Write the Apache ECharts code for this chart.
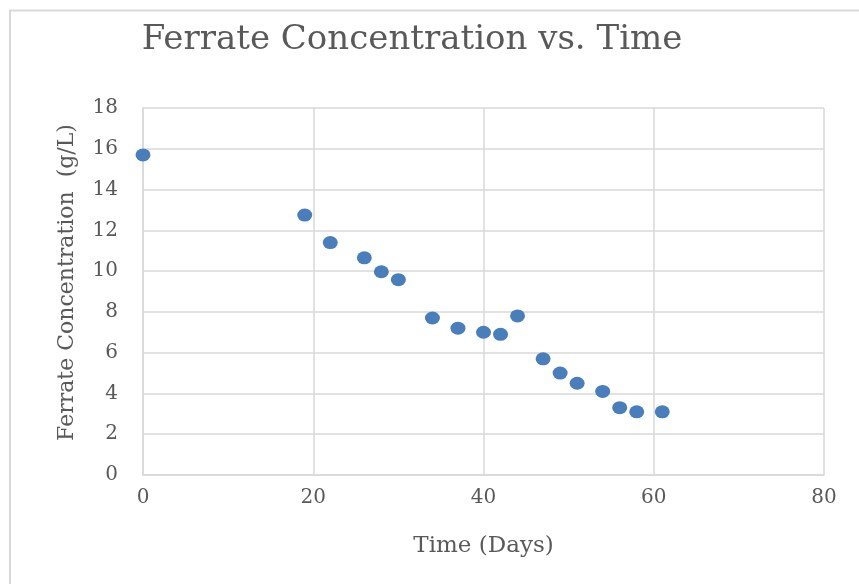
<!DOCTYPE html>
<html>
<head>
<meta charset="utf-8">
<script src="https://cdn.jsdelivr.net/npm/echarts@6/dist/echarts.min.js"></script>
<style>
  html, body { margin: 0; padding: 0; background: #fff; }
  #chart { width: 859px; height: 584px; }
</style>
</head>
<body>
<div id="chart"></div>
<script>
// Ferrate concentration measured over time
const days = [0, 19, 22, 26, 28, 30, 34, 37, 40, 42, 44, 47, 49, 51, 54, 56, 58, 61];
const concentration = [15.7, 12.75, 11.4, 10.65, 9.97, 9.58, 7.7, 7.2, 7.0, 6.9, 7.8, 5.7, 5.0, 4.5, 4.1, 3.3, 3.1, 3.1];
const xTicks = [0, 20, 40, 60, 80];
const yTicks = [0, 2, 4, 6, 8, 10, 12, 14, 16, 18];

const points = days.map((d, i) => [d, concentration[i]]);
const font = '"DejaVu Serif", "Liberation Serif", serif';
const textColor = '#595959';
const gridColor = '#d9d9d9';

const chart = echarts.init(document.getElementById('chart'), null, { renderer: 'canvas' });
chart.setOption({
  animation: false,
  backgroundColor: '#ffffff',
  title: {
    text: 'Ferrate Concentration vs. Time',
    left: 407,
    textAlign: 'center',
    top: 18,
    textStyle: { fontFamily: font, fontSize: 34, fontWeight: 'normal', color: textColor }
  },
  graphic: [
    { type: 'line', shape: { x1: 9, y1: 10.5, x2: 859, y2: 10.5 }, style: { stroke: '#d9d9d9', lineWidth: 2 } },
    { type: 'line', shape: { x1: 10, y1: 10, x2: 10, y2: 584 }, style: { stroke: '#d9d9d9', lineWidth: 2 } }
  ],
  grid: { left: 143, right: 35, top: 108, bottom: 109, containLabel: false },
  xAxis: {
    type: 'value',
    min: xTicks[0],
    max: xTicks[xTicks.length - 1],
    interval: 20,
    name: 'Time (Days)',
    nameLocation: 'middle',
    nameGap: 60,
    nameTextStyle: { fontFamily: font, fontSize: 23, color: textColor },
    axisLine: { show: true, lineStyle: { color: gridColor, width: 1.5 } },
    axisTick: { show: false },
    axisLabel: { fontFamily: font, fontSize: 20, color: textColor, margin: 13 },
    splitLine: { show: true, lineStyle: { color: gridColor, width: 1.5 } }
  },
  yAxis: {
    type: 'value',
    min: yTicks[0],
    max: yTicks[yTicks.length - 1],
    interval: 2,
    name: 'Ferrate Concentration  (g/L)',
    nameLocation: 'middle',
    nameGap: 65,
    nameTextStyle: { fontFamily: font, fontSize: 22, color: textColor, padding: [0, 0, 0, 18] },
    axisLine: { show: true, lineStyle: { color: gridColor, width: 1.5 } },
    axisTick: { show: false },
    axisLabel: { fontFamily: font, fontSize: 20, color: textColor, margin: 25 },
    splitLine: { show: true, lineStyle: { color: gridColor, width: 1.5 } }
  },
  series: [{
    type: 'scatter',
    data: points,
    symbol: 'circle',
    symbolSize: [15, 13],
    itemStyle: { color: '#4a7ebb', opacity: 1 }
  }]
});
</script>
</body>
</html>
